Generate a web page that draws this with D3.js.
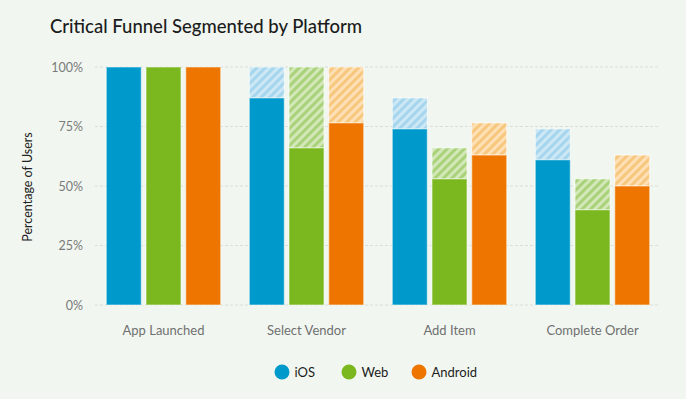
<!DOCTYPE html>
<html><head><meta charset="utf-8">
<script src="https://cdn.jsdelivr.net/npm/d3@7"></script>
<style>
html,body{margin:0;padding:0;background:#f1f7f0;}
svg{display:block;font-family:"Lato","Noto Sans",sans-serif;}
</style></head>
<body><svg id="c" width="686" height="399"></svg>
<script>
const steps = ["App Launched", "Select Vendor", "Add Item", "Complete Order"];
const platforms = ["iOS", "Web", "Android"];
const iosValues = [100, 87, 74, 61];
const webValues = [100, 66, 53, 40];
const androidValues = [100, 76.5, 63, 50];
const yTicks = [0, 25, 50, 75, 100];
const colors = ["#0099cb", "#7bb820", "#ee7600"];
const hatchBg = ["#cde8f4", "#d3e8b8", "#fde0b6"];
const hatchFg = ["#a6d6ee", "#a9d27a", "#f8c77e"];

const series = [iosValues, webValues, androidValues];
const svg = d3.select("#c");
svg.append("rect").attr("width",686).attr("height",399).attr("fill","#f1f7f0");

const defs = svg.append("defs");
platforms.forEach((p,i)=>{
  const pat = defs.append("pattern").attr("id","h"+i).attr("patternUnits","userSpaceOnUse")
    .attr("width",6).attr("height",6).attr("patternTransform","rotate(45)");
  pat.append("rect").attr("width",6).attr("height",6).attr("fill",hatchBg[i]);
  pat.append("rect").attr("width",3).attr("height",6).attr("fill",hatchFg[i]);
});

const x0 = d3.scaleBand().domain(steps).range([92,664]).paddingInner(0.2).paddingOuter(0.1);
const x1 = d3.scaleBand().domain(platforms).range([0,x0.bandwidth()]).paddingInner(0.12);
const y = d3.scaleLinear().domain([0,100]).range([305,67]);

// grid
svg.append("g").selectAll("line").data(yTicks).join("line")
  .attr("x1",95).attr("x2",658).attr("y1",d=>y(d)).attr("y2",d=>y(d))
  .attr("stroke","#d9dfd8").attr("stroke-width",1).attr("stroke-dasharray","3,2");

// y axis labels
const yAxis = d3.axisLeft(y).tickValues(yTicks).tickFormat(d=>d+"%").tickSize(0).tickPadding(0);
const ga = svg.append("g").attr("transform","translate(83,0)").call(yAxis);
ga.select(".domain").remove();
ga.selectAll("text").attr("fill","#7a7a7a").attr("font-size",12.5).attr("dy","0.35em").style("font-family","Lato");

// x labels
const xAxis = d3.axisBottom(x0).tickSize(0).tickPadding(0);
const gx = svg.append("g").attr("transform","translate(0,326)").call(xAxis);
gx.select(".domain").remove();
gx.selectAll("text").attr("fill","#707070").attr("font-size",13).attr("dy","0.71em").style("font-family","Lato");

// bars
steps.forEach((s,si)=>{
  platforms.forEach((p,pi)=>{
    const v = series[pi][si];
    const prev = si>0 ? series[pi][si-1] : null;
    const bx = x0(s)+x1(p), bw = x1.bandwidth();
    if(prev!==null && prev>v){
      svg.append("rect").attr("x",bx).attr("y",y(prev)).attr("width",bw).attr("height",y(v)-y(prev))
        .attr("fill","url(#h"+pi+")").attr("stroke","rgba(255,255,255,0.6)").attr("stroke-width",1);
    }
    svg.append("rect").attr("x",bx).attr("y",y(v)).attr("width",bw).attr("height",y(0)-y(v))
      .attr("fill",colors[pi]).attr("stroke","rgba(255,255,255,0.45)").attr("stroke-width",1.2);
  });
});

// title
svg.append("text").attr("x",50).attr("y",33).attr("font-size",18.5).attr("fill","#1c1c1c")
  .attr("font-weight",500).text("Critical Funnel Segmented by Platform");

// y title
svg.append("text").attr("transform","translate(32,187) rotate(-90)").attr("text-anchor","middle")
  .attr("font-size",12.5).attr("fill","#222").text("Percentage of Users");

// legend
const legX = [282,349,419];
const lg = svg.append("g").selectAll("g").data(platforms).join("g")
  .attr("transform",(d,i)=>`translate(${legX[i]},372)`);
lg.append("circle").attr("r",7.5).attr("fill",(d,i)=>colors[i]);
lg.append("text").attr("x",12.5).attr("dy","0.35em").attr("font-size",13).attr("fill","#1c1c1c").text(d=>d);
</script></body></html>
